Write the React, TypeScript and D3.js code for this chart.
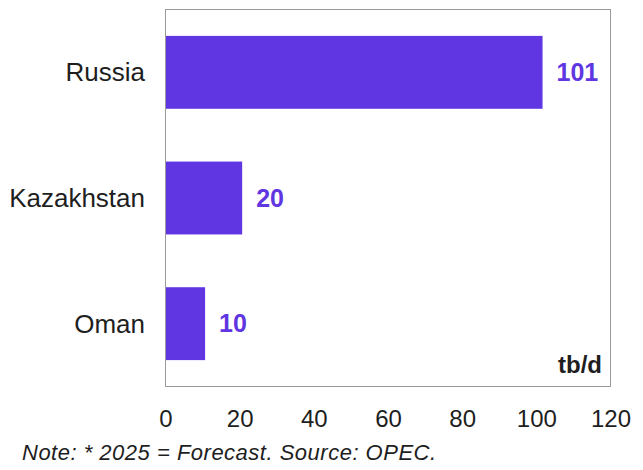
import React from "react";
import * as d3 from "d3";

const categories = ["Russia", "Kazakhstan", "Oman"];
const values = [101, 20, 10];
const valueLabels = ["101", "20", "10"];
const xTicks = [0, 20, 40, 60, 80, 100, 120];
const unitLabel = "tb/d";
const note = "Note: * 2025 = Forecast. Source: OPEC.";

const W = 643;
const H = 470;
const frame = { left: 165.5, right: 610.5, top: 9.5, bottom: 386.5 };
const BAR = "#5f36e2";
const TEXT = "#1e1e1e";
const FONT = "'Liberation Sans', Arial, sans-serif";

export default function App() {
  const x = d3.scaleLinear().domain([0, 120]).range([166, 611]);
  const y = d3
    .scaleBand<string>()
    .domain(categories)
    .range([frame.top, frame.bottom])
    .paddingInner(0.42)
    .paddingOuter(0.21);

  return (
    <svg
      width={W}
      height={H}
      style={{ position: "absolute", left: 0, top: 0, background: "#fff" }}
      fontFamily={FONT}
    >
      <rect x={0} y={0} width={W} height={H} fill="#fff" />
      {categories.map((c, i) => {
        const y0 = y(c) as number;
        const bw = y.bandwidth();
        const x1 = x(values[i]);
        return (
          <g key={c}>
            <rect
              x={x(0)}
              y={y0}
              width={x1 - x(0) + 2}
              height={bw}
              fill={BAR}
            />
            <text
              x={x1 + 16}
              y={y0 + bw / 2}
              dy="0.35em"
              fontSize={25}
              fontWeight="bold"
              fill={BAR}
            >
              {valueLabels[i]}
            </text>
            <text
              x={145}
              y={y0 + bw / 2}
              dy="0.35em"
              textAnchor="end"
              fontSize={26}
              fill={TEXT}
            >
              {c}
            </text>
          </g>
        );
      })}
      <rect
        x={frame.left}
        y={frame.top}
        width={frame.right - frame.left}
        height={frame.bottom - frame.top}
        fill="none"
        stroke="#9a9a9a"
        strokeWidth={1}
      />
      <text
        x={602}
        y={373}
        textAnchor="end"
        fontSize={24}
        fontWeight="bold"
        fill={TEXT}
      >
        {unitLabel}
      </text>
      {xTicks.map((t) => (
        <text
          key={t}
          x={x(t)}
          y={426.5}
          textAnchor="middle"
          fontSize={24}
          fill={TEXT}
        >
          {t}
        </text>
      ))}
      <text
        x={22}
        y={460}
        fontSize={22}
        letterSpacing={0.5}
        fontStyle="italic"
        fill={TEXT}
      >
        {note}
      </text>
    </svg>
  );
}
